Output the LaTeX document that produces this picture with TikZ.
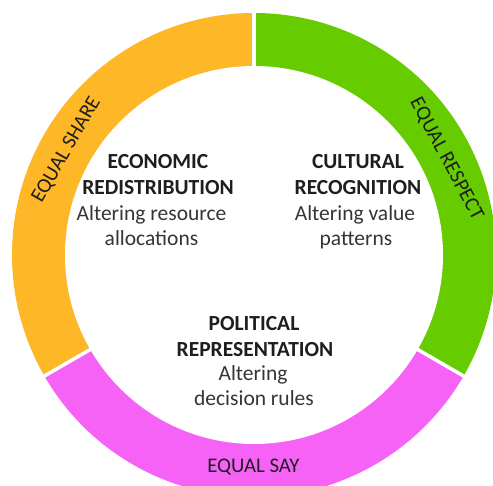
\documentclass[tikz,border=0pt]{standalone}
\usepackage{fontspec}
\setmainfont{Carlito}
\usetikzlibrary{calc}
\definecolor{cOrange}{RGB}{253,183,39}
\definecolor{cGreen}{RGB}{102,204,0}
\definecolor{cPink}{RGB}{245,98,245}
\definecolor{cText}{RGB}{30,30,30}
\begin{document}
\begin{tikzpicture}[x=1pt,y=1pt,
  titletext/.style={anchor=base, inner sep=0pt, font=\fontsize{21.5}{26}\selectfont\bfseries, text=cText},
  subtext/.style={anchor=base, inner sep=0pt, font=\fontsize{21.5}{26}\selectfont, text=cText!90},
  ringlbl/.style={inner sep=0pt, font=\fontsize{20.8}{24}\selectfont, text=cText},
  divider/.style={white, line width=3.5pt}]
\useasboundingbox (0,0) rectangle (493,486);
\clip (0,0) rectangle (493,486);
\coordinate (C) at (254,231);
\def\Ro{242}
\def\Ri{189}
% ring sectors
\fill[cOrange] (C) -- ($(C)+(90:\Ro)$) arc[start angle=90, end angle=210, radius=\Ro] -- cycle;
\fill[cPink] (C) -- ($(C)+(210:\Ro)$) arc[start angle=210, end angle=330, radius=\Ro] -- cycle;
\fill[cGreen] (C) -- ($(C)+(330:\Ro)$) arc[start angle=330, end angle=450, radius=\Ro] -- cycle;
\fill[white] (C) circle[radius=\Ri];
% dividers
\draw[divider] ($(C)+(90:180)$) -- ($(C)+(90:260)$);
\draw[divider] ($(C)+(210:180)$) -- ($(C)+(210:260)$);
\draw[divider] ($(C)+(330:180)$) -- ($(C)+(330:260)$);
% ring labels
\node[ringlbl, rotate=60] (share) at ($(C)+(150.7:215)$) {EQUAL SHARE};
\node[ringlbl, rotate=-62] (respect) at ($(C)+(26.5:215)$) {EQUAL RESPECT};
\node[ringlbl, anchor=base] (say) at (253.5,13.5) {EQUAL SAY};
% economic
\node[titletext] (eco1) at (158,317) {ECONOMIC};
\node[titletext] (eco2) at (158,291) {REDISTRIBUTION};
\node[subtext] (eco3) at (151.5,265.5) {Altering resource};
\node[subtext] (eco4) at (151.5,240) {allocations};
% cultural
\node[titletext] (cul1) at (358,317) {CULTURAL};
\node[titletext] (cul2) at (358,291) {RECOGNITION};
\node[subtext] (cul3) at (355,265.5) {Altering value};
\node[subtext] (cul4) at (356,240) {patterns};
% political
\node[titletext] (pol1) at (254,155.5) {POLITICAL};
\node[titletext] (pol2) at (255,129.5) {REPRESENTATION};
\node[subtext] (pol3) at (253,105) {Altering};
\node[subtext] (pol4) at (254,80) {decision rules};
\end{tikzpicture}
\end{document}
